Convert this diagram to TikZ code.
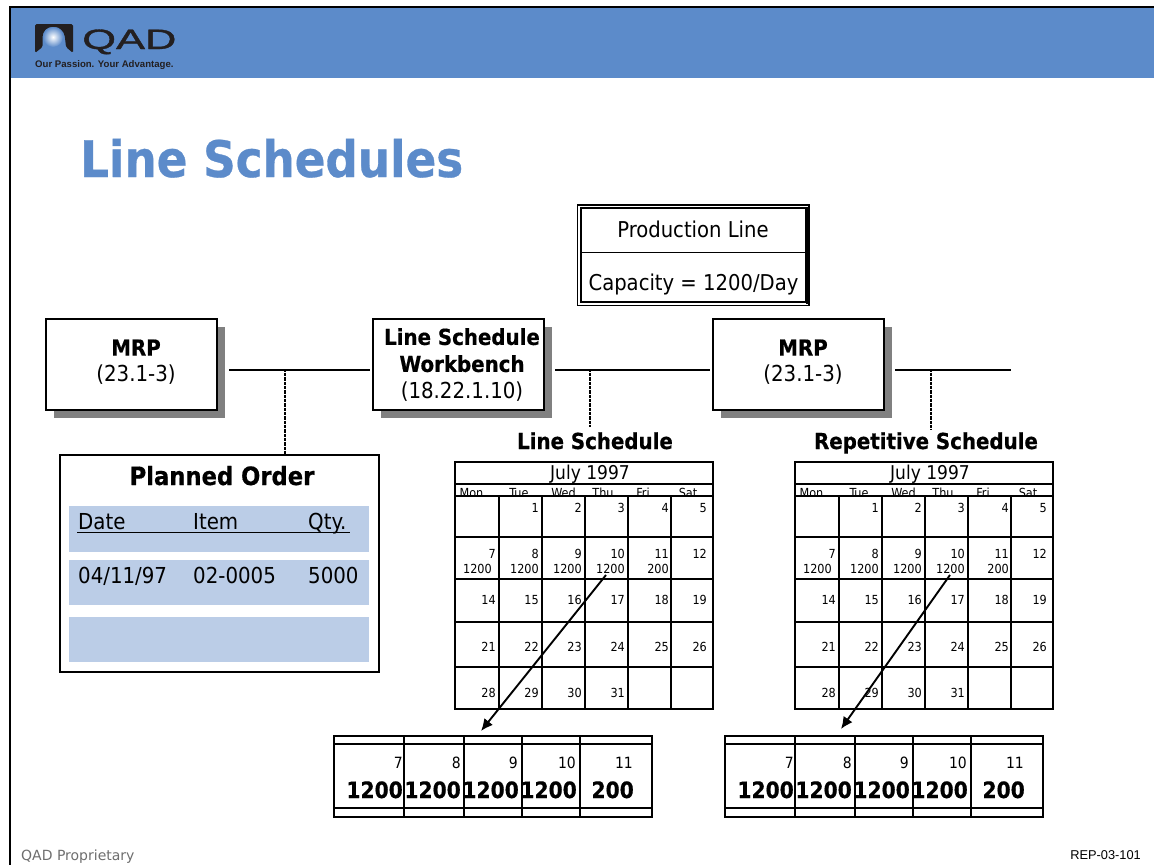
\documentclass[tikz,border=0pt]{standalone}
\usepackage{fontspec}
\usetikzlibrary{arrows.meta}
\setmainfont{DejaVu Sans Condensed}[BoldFont={DejaVu Sans Condensed Bold},BoldFeatures={FakeBold=0.6}]
\newfontfamily\titlefont{DejaVu Sans}
\newfontfamily\footfont{Liberation Sans}
\newfontfamily\logofont{Liberation Sans}[FakeBold=1.2]
\definecolor{qadblue}{HTML}{5C8BCA}
\definecolor{rowblue}{HTML}{BBCDE7}
\definecolor{shadowgrey}{HTML}{808080}
\definecolor{logodark}{HTML}{231F20}
\definecolor{footgrey}{HTML}{6E6E6E}
\tikzset{
  x=1pt,y=-1pt,
  calline/.style={line width=1.6pt},
  boxnode/.style={draw,fill=white,line width=2pt,minimum width=171pt,minimum height=91pt,align=center,inner sep=0pt},
  shadownode/.style={fill=shadowgrey,minimum width=171pt,minimum height=91pt,inner sep=0pt},
  boxtext/.style={align=center,inner sep=0pt,font=\fontsize{22}{26}\selectfont},
  conn/.style={line width=1.7pt},
  dotconn/.style={line width=2.8pt,dash pattern=on 1pt off .3pt},
  dotthin/.style={line width=1.5pt,dash pattern=on 1pt off .3pt},
  arrowconn/.style={line width=1.9pt,-{Latex[length=12pt,width=11pt]}},
  daynum/.style={anchor=base east,inner sep=0pt,font=\fontsize{12.5}{14}\selectfont},
  dayname/.style={anchor=base,inner sep=0pt,font=\fontsize{12.5}{14}\selectfont},
  subbig/.style={anchor=base east,inner sep=0pt,font=\fontsize{22.5}{26}\bfseries\selectfont},
  subsmall/.style={anchor=base east,inner sep=0pt,font=\fontsize{15.5}{17}\selectfont},
  heading/.style={anchor=base,inner sep=0pt,font=\fontsize{22}{24}\bfseries\selectfont},
  rowtext/.style={anchor=base west,inner sep=0pt,font=\fontsize{22}{24}\selectfont},
}
\newcommand{\monthgrid}[2]{%
 \begin{scope}[shift={(#1,0)}]
  \draw[calline] (455,462) rectangle (713,709);
  \foreach \yy in {484,496,537,579,622,667} \draw[calline] (455,\yy) -- (713,\yy);
  \foreach \xx in {499,542,585,628,671} \draw[calline] (\xx,496) -- (\xx,709);
  \node[name=#2title,anchor=base,inner sep=0pt,font=\fontsize{19}{20}\selectfont] at (590,479) {July 1997};
  \begin{scope}
   \clip (455,484) rectangle (713,495);
   \node[name=#2mon,dayname] at (471.5,497) {Mon};
   \node[name=#2tue,dayname] at (519,497) {Tue};
   \node[name=#2wed,dayname] at (563.5,497) {Wed};
   \node[name=#2thu,dayname] at (603,497) {Thu};
   \node[name=#2fri,dayname] at (643,497) {Fri};
   \node[name=#2sat,dayname] at (688,497) {Sat};
  \end{scope}
  \foreach \n/\xx/\yy in {1/539/512,2/582/512,3/625/512,4/669/512,5/707/512,
    7/496/558,8/539/558,9/582/558,10/625/558,11/669/558,12/707/558,
    14/496/604,15/539/604,16/582/604,17/625/604,18/669/604,19/707/604,
    21/496/651,22/539/651,23/582/651,24/625/651,25/669/651,26/707/651,
    28/496/697,29/539/697,30/582/697,31/625/697}
    \node[name=#2d\n,daynum] at (\xx,\yy) {\n};
  \foreach \k/\txt/\xx in {a/1200/492,b/1200/539,c/1200/582,d/1200/625,e/200/669}
    \node[name=#2q\k,daynum] at (\xx,573) {\txt};
 \end{scope}}
\newcommand{\striptable}[2]{%
 \begin{scope}[shift={(#1,0)}]
  \draw[calline] (334,736) rectangle (652,817);
  \draw[calline] (334,744) -- (652,744);
  \draw[calline] (334,808) -- (652,808);
  \foreach \xx in {404,464,522,580} \draw[calline] (\xx,736) -- (\xx,817);
  \foreach \n/\xx in {7/403,8/461,9/518,10/576,11/633}
    \node[name=#2n\n,subsmall] at (\xx,768) {\n};
  \foreach \k/\txt/\xx in {a/1200/403,b/1200/461,c/1200/519,d/1200/577,e/200/634}
    \node[name=#2b\k,subbig] at (\xx,798) {\txt};
 \end{scope}}
\begin{document}
\begin{tikzpicture}
\useasboundingbox (0,0) rectangle (1154,865);
\fill[white] (0,0) rectangle (1154,865);
% header
\fill[qadblue] (10,7) rectangle (1154,78);
\draw[line width=2pt] (1154,7) -- (10,7) -- (10,865);
% logo
\fill[logodark,rounded corners=1.5pt] (35,24) -- (73,24) -- (73,53) -- (66,47) -- (65,38) .. controls (64,31) and (59,27) .. (54,27) .. controls (47,27) and (43,31) .. (42.5,38) -- (42.5,47) -- (35,53) -- cycle;
\shade[inner color=white,outer color=qadblue] (53,37) circle (10pt);
\node[name=logoname,anchor=base west,inner sep=0pt,text=logodark,xscale=1.55,font=\fontsize{28}{30}\selectfont\logofont] at (82,49) {QAD};
\node[name=logotag,anchor=base west,inner sep=0pt,text=logodark,font=\fontsize{9.6}{11}\bfseries\selectfont\footfont] at (35,67) {Our Passion. Your Advantage.};
% title
\node[name=title,anchor=base west,inner sep=0pt,text=qadblue,font=\fontsize{50.3}{54}\bfseries\selectfont] at (80,177) {Line Schedules};
% production line
\draw[line width=1.6pt] (577.5,205) rectangle (809,305.5);
\node[name=prod,draw,line width=1.5pt,minimum width=225pt,minimum height=94pt,inner sep=0pt] at (693.5,255) {};
\draw[line width=2.5pt] (807.5,207) -- (807.5,304);
\draw[line width=1.4pt] (prod.west |- 0,252.5) -- (prod.east |- 0,252.5);
\node[name=prodtop,anchor=base,inner sep=0pt,font=\fontsize{21.8}{24}\selectfont] at (693,237) {Production Line};
\node[name=prodcap,anchor=base,inner sep=0pt,font=\fontsize{21.8}{24}\selectfont] at (693.5,290) {Capacity = 1200/Day};
% boxes
\foreach \cx/\nm in {131.5/mrpa,458/lsw,798/mrpb}
  \node[name=\nm s,shadownode] at (\cx+8,372) {};
\node[name=mrpa,boxnode] at (131.5,364) {};
\node[name=lsw,boxnode] at (458,364) {};
\node[name=mrpb,boxnode] at (798,364) {};
\node[name=mrpatext,boxtext] at (136,362) {{\bfseries MRP}\\(23.1-3)};
\node[name=lswtext,boxtext,font=\fontsize{22}{27}\selectfont] at (462,365) {{\bfseries Line Schedule}\\{\bfseries Workbench}\\(18.22.1.10)};
\node[name=mrpbtext,boxtext] at (803,362) {{\bfseries MRP}\\(23.1-3)};
% connectors
\coordinate (ca) at (229,370);
\coordinate (cb) at (370,370);
\coordinate (cc) at (555,370);
\coordinate (cd) at (710,370);
\coordinate (ce) at (895,370);
\coordinate (cf) at (1011,370);
\draw[conn] (ca) -- (cb);
\draw[conn] (cc) -- (cd);
\draw[conn] (ce) -- (cf);
% planned order
\node[name=po,draw,fill=white,line width=2pt,minimum width=319pt,minimum height=217pt,inner sep=0pt] at (219,563.5) {};
\coordinate (ta) at (285,370);
\coordinate (tb) at (590,370);
\coordinate (tbe) at (590,427);
\coordinate (tc) at (931,370);
\coordinate (tce) at (931,429);
\draw[dotconn] (ta) -- (po.north -| ta);
\node[name=lshead,heading] at (595,449) {Line Schedule};
\node[name=rshead,heading] at (926,449) {Repetitive Schedule};
\draw[dotthin] (tb) -- (tbe);
\draw[dotconn] (tc) -- (tce);
\node[name=pohead,anchor=base,inner sep=0pt,font=\fontsize{25.2}{26}\bfseries\selectfont] at (222,485) {Planned Order};
\fill[rowblue] (69,506) rectangle (369,552);
\fill[rowblue] (69,560) rectangle (369,605);
\fill[rowblue] (69,617) rectangle (369,662);
\node[name=hd,rowtext] at (78,529) {Date};
\node[name=hi,rowtext] at (193,529) {Item};
\node[name=hq,rowtext] at (308,529) {Qty.};
\draw[line width=1.5pt] (77,532.5) -- (350,532.5);
\node[name=vd,rowtext] at (78,583) {04/11/97};
\node[name=vi,rowtext] at (193,583) {02-0005};
\node[name=vq,rowtext] at (308,583) {5000};
% calendars
\monthgrid{0}{l}
\monthgrid{340}{r}
\striptable{0}{s}
\striptable{391}{t}
% arrows
\coordinate (aa) at (606,575);
\coordinate (ab) at (481,731);
\coordinate (ac) at (950,575);
\coordinate (ad) at (841,729);
\draw[arrowconn] (aa) -- (ab);
\draw[arrowconn] (ac) -- (ad);
% footer
\node[name=footl,anchor=base west,inner sep=0pt,text=footgrey,font=\fontsize{14}{16}\selectfont\titlefont] at (21,860) {QAD Proprietary};
\node[name=footr,anchor=base east,inner sep=0pt,font=\fontsize{12.8}{14}\selectfont\footfont] at (1141,859) {REP-03-101};
\end{tikzpicture}
\end{document}
